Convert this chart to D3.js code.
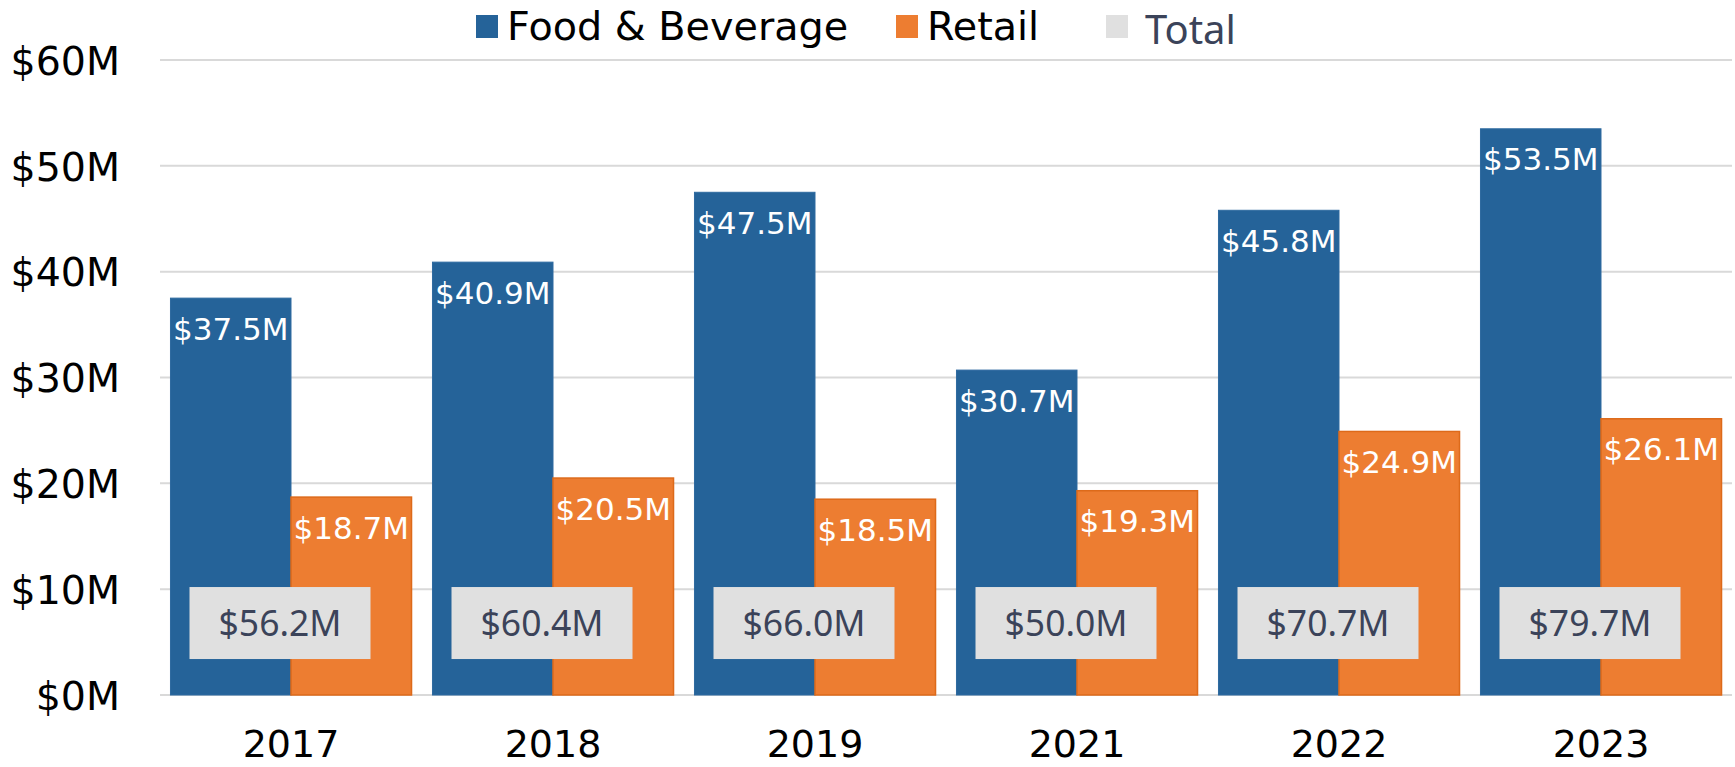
<!DOCTYPE html>
<html><head><meta charset="utf-8">
<script src="https://cdn.jsdelivr.net/npm/d3@7/dist/d3.min.js"></script>
<style>html,body{margin:0;padding:0;background:#fff;overflow:hidden}</style>
</head><body><svg id="c" width="1735" height="767"></svg>
<script>
const categories = ["2017","2018","2019","2021","2022","2023"];
const foodBeverage = [37.5, 40.9, 47.5, 30.7, 45.8, 53.5];
const retail = [18.7, 20.5, 18.5, 19.3, 24.9, 26.1];
const totals = [56.2, 60.4, 66.0, 50.0, 70.7, 79.7];
const yTicks = [0, 10, 20, 30, 40, 50, 60];
const seriesNames = ["Food & Beverage", "Retail", "Total"];

const W = 1735, H = 767;
const m = {left:160, right:3, top:60, bottom:72};
const svg = d3.select("#c");
const x = d3.scaleBand().domain(categories).range([m.left, W - m.right]).paddingInner(0.08).paddingOuter(0.04);
const x1 = d3.scaleBand().domain([0,1]).range([0, x.bandwidth()]);
const y = d3.scaleLinear().domain([0, 60]).range([H - m.bottom, m.top]);

const blue = "#256399", orange = "#ED7D31", grey = "#E0E0E0";
const fmt = v => "$" + v.toFixed(1) + "M";

// gridlines
svg.append("g").selectAll("line").data(yTicks).join("line")
  .attr("x1", m.left).attr("x2", W - m.right)
  .attr("y1", d => y(d)).attr("y2", d => y(d))
  .attr("stroke", "#D9D9D9").attr("stroke-width", 2);

// y axis
const yAxis = d3.axisLeft(y).tickValues(yTicks).tickFormat(d => "$" + d + "M").tickSize(0).tickPadding(40);
const gy = svg.append("g").attr("transform", `translate(${m.left},0)`).call(yAxis);
gy.select(".domain").remove();
gy.selectAll("text").attr("font-family", "DejaVu Sans").attr("font-size", 39.5).attr("fill", "#000").attr("dy", "0.36em");

// x axis
const xAxis = d3.axisBottom(x).tickSize(0).tickPadding(35);
const gx = svg.append("g").attr("transform", `translate(0,${H - m.bottom})`).call(xAxis);
gx.select(".domain").remove();
gx.selectAll("text").attr("font-family", "DejaVu Sans").attr("font-size", 38).attr("fill", "#000");

const groups = svg.append("g").selectAll("g").data(categories).join("g")
  .attr("transform", d => `translate(${x(d)},0)`);

// food bars
groups.append("rect")
  .attr("x", x1(0)).attr("width", x1.bandwidth())
  .attr("y", (d,i) => y(foodBeverage[i])).attr("height", (d,i) => y(0) - y(foodBeverage[i]))
  .attr("fill", blue).attr("stroke", "#2E6AA0").attr("stroke-width", 1);
// retail bars
groups.append("rect")
  .attr("x", x1(1)).attr("width", x1.bandwidth())
  .attr("y", (d,i) => y(retail[i])).attr("height", (d,i) => y(0) - y(retail[i]))
  .attr("fill", orange).attr("stroke", "#DD6A1A").attr("stroke-width", 1.5);

// labels
groups.append("text")
  .attr("x", x1(0) + x1.bandwidth()/2).attr("y", (d,i) => y(foodBeverage[i]) + 33)
  .attr("text-anchor", "middle").attr("dominant-baseline", "middle")
  .attr("font-family", "DejaVu Sans").attr("font-size", 31).attr("fill", "#fff")
  .text((d,i) => fmt(foodBeverage[i]));
groups.append("text")
  .attr("x", x1(1) + x1.bandwidth()/2).attr("y", (d,i) => y(retail[i]) + 33)
  .attr("text-anchor", "middle").attr("dominant-baseline", "middle")
  .attr("font-family", "DejaVu Sans").attr("font-size", 31).attr("fill", "#fff")
  .text((d,i) => fmt(retail[i]));

// total boxes
const boxW = 181, boxH = 72;
const tg = groups.append("g").attr("transform", `translate(${x.bandwidth()/2 - 11},${y(6.8)})`);
tg.append("rect").attr("x", -boxW/2).attr("y", -boxH/2).attr("width", boxW).attr("height", boxH).attr("fill", grey);
tg.append("text").attr("text-anchor", "middle").attr("dy", "0.36em")
  .attr("font-family", "Noto Sans").attr("font-size", 35.5).attr("fill", "#3B4359")
  .text((d,i) => fmt(totals[i]));

// legend
const leg = [
  {name: seriesNames[0], color: blue, sx: 476, tx: 507, font: "DejaVu Sans", size: 39.7, fill: "#000", ty: 40},
  {name: seriesNames[1], color: orange, sx: 896, tx: 927, font: "DejaVu Sans", size: 39.7, fill: "#000", ty: 40},
  {name: seriesNames[2], color: grey, sx: 1106, tx: 1145, font: "Noto Sans", size: 40, fill: "#3B4359", ty: 43.5}
];
const lg = svg.append("g");
lg.selectAll("rect").data(leg).join("rect")
  .attr("x", d => d.sx).attr("y", 15).attr("width", 22).attr("height", 23).attr("fill", d => d.color);
lg.selectAll("text").data(leg).join("text")
  .attr("x", d => d.tx).attr("y", d => d.ty)
  .attr("font-family", d => d.font).attr("font-size", d => d.size).attr("fill", d => d.fill)
  .text(d => d.name);
</script></body></html>
